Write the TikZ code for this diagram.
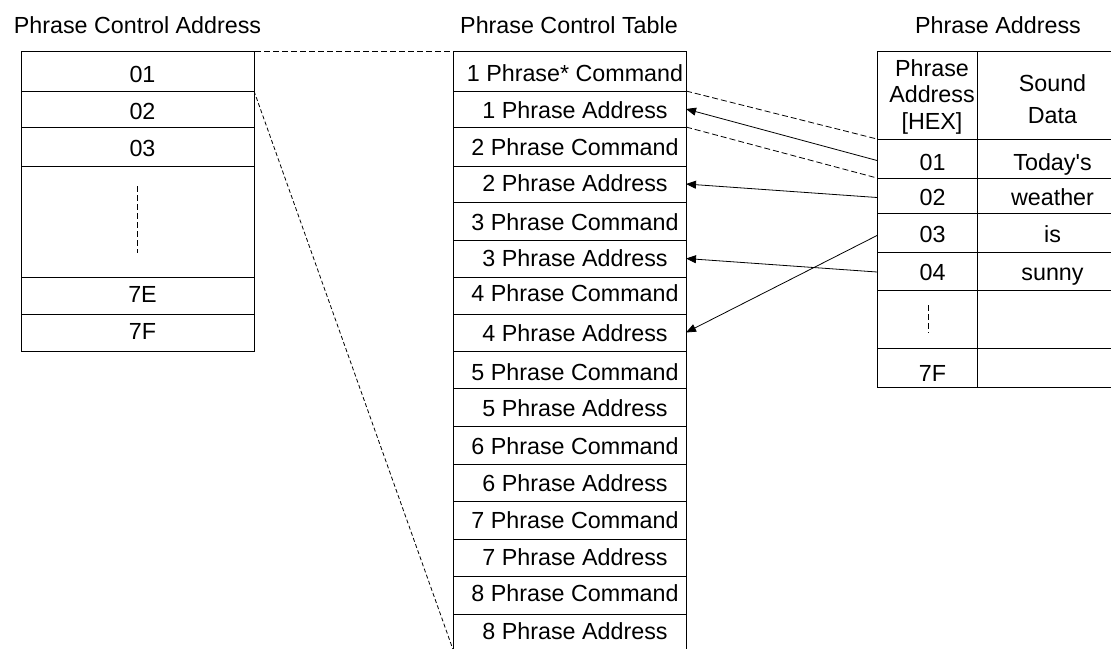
\documentclass[tikz,border=0pt]{standalone}
\usepackage{fontspec}
\setmainfont{Liberation Sans}[Ligatures=TeXOff]
\usetikzlibrary{fit,arrows.meta}
\begin{document}
\begin{tikzpicture}[x=1pt,y=-1pt,
  cellbox/.style={draw=black, line width=1pt, inner sep=0pt, outer sep=0pt},
  txt/.style={anchor=base, inner sep=0pt, font=\fontsize{23.3}{27}\selectfont},
  dline/.style={draw=black, line width=0.8pt, dash pattern=on 6pt off 3pt},
  longdash/.style={draw=black, line width=0.8pt, dash pattern=on 4pt off 2.5pt},
  arr/.style={draw=black, line width=0.8pt, -{Triangle[length=10pt,width=8pt]}},
  ellip/.style={draw=black, line width=1.6pt, dash pattern=on 6pt off 3pt}]
\useasboundingbox (0,0) rectangle (1111,648);
\clip (0,0) rectangle (1111,648);

% titles
\node[txt] (t1) at (137.5,33.3) {Phrase Control Address};
\node[txt] (t2) at (569,33.3) {Phrase Control Table};
\node[txt] (t3) at (998,33.3) {Phrase Address};

% left table
\foreach \i/\a/\b in {1/51/91, 2/91/127, 3/127/166, 4/166/277, 5/277/314, 6/314/351}
  \node[cellbox, fit={(21,\a)(254,\b)}] (L\i) {};
\foreach \i/\t/\y in {1/01/82.3, 2/02/119.3, 3/03/156.7, 5/7E/302.7, 6/7F/339.3}
  \node[txt] (lt\i) at (142.5,\y) {\t};
\draw[ellip] ([yshift=-20pt]L4.north) -- ([yshift=24pt]L4.south);

% middle table
\foreach \i/\a/\b in {1/51/91, 2/91/127, 3/127/166, 4/166/202, 5/202/240, 6/240/277,
    7/277/314, 8/314/351, 9/351/388, 10/388/426, 11/426/464, 12/464/501,
    13/501/539, 14/539/576, 15/576/614, 16/614/649.5}
  \node[cellbox, fit={(453,\a)(686,\b)}] (M\i) {};
\foreach \i/\t/\y in {1/{1 Phrase* Command}/81.7, 2/{1 Phrase Address}/118,
    3/{2 Phrase Command}/155, 4/{2 Phrase Address}/191.7,
    5/{3 Phrase Command}/230, 6/{3 Phrase Address}/266.7,
    7/{4 Phrase Command}/301.7, 8/{4 Phrase Address}/341.7,
    9/{5 Phrase Command}/380, 10/{5 Phrase Address}/416.7,
    11/{6 Phrase Command}/454, 12/{6 Phrase Address}/491,
    13/{7 Phrase Command}/528.3, 14/{7 Phrase Address}/565,
    15/{8 Phrase Command}/601, 16/{8 Phrase Address}/639.3}
  \node[txt] (mt\i) at (575,\y) {\t};

% right table
\node[cellbox, fit={(877,51)(977,139)}] (RHa) {};
\node[cellbox, fit={(977,51)(1118,139)}] (RHb) {};
\foreach \i/\a/\b in {1/139/178, 2/178/213, 3/213/252, 4/252/290, 5/290/348, 6/348/387} {
  \node[cellbox, fit={(877,\a)(977,\b)}] (R\i a) {};
  \node[cellbox, fit={(977,\a)(1118,\b)}] (R\i b) {};
}
\node[txt] (h1) at (932,76) {Phrase};
\node[txt] (h2) at (932,102.7) {Address};
\node[txt] (h3) at (932,129.4) {[HEX]};
\node[txt] (h4) at (1052.5,91.7) {Sound};
\node[txt] (h5) at (1052.5,123.3) {Data};
\foreach \i/\t/\u/\y in {1/01/{Today's}/170.7, 2/02/weather/205, 3/03/is/242.7, 4/04/sunny/280} {
  \node[txt] (ra\i) at (932.5,\y) {\t};
  \node[txt] (rb\i) at (1052.5,\y) {\u};
}
\node[txt] (ra6) at (932.5,381.7) {7F};
\draw[ellip] ([xshift=1.3pt,yshift=-15pt]R5a.north) -- ([xshift=1.3pt,yshift=15pt]R5a.south);

% connectors
\draw[dline] ([xshift=-17pt]L1.north east) -- ([xshift=47pt]M1.north west);
\draw[longdash] (L2.north east) -- (M16.south west);
\draw[dline] (M2.north east) -- (R1a.north west);
\draw[dline] (M2.south east) -- (R1a.south west);
\draw[arr] ([yshift=-2pt]R1a.west) -- (M2.east);
\draw[arr] ([yshift=-2pt]R2a.west) -- (M4.east);
\draw[arr] ([yshift=-1pt]R4a.west) -- (M6.east);
\draw[arr] ([yshift=-3pt]R3a.west) -- (M8.east);
\end{tikzpicture}
\end{document}
